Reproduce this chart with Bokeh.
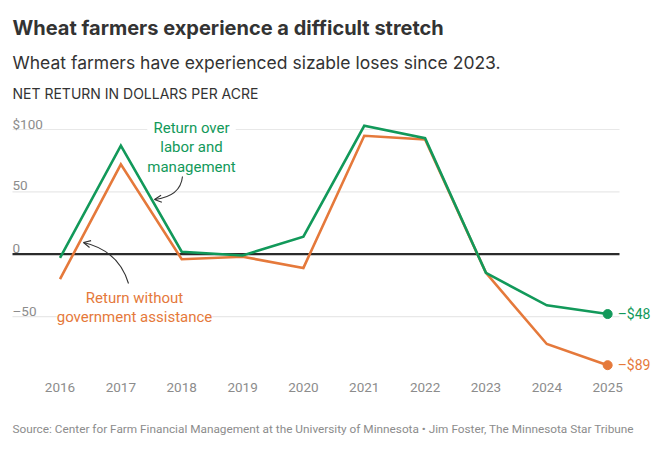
from bokeh.plotting import figure
from bokeh.models import Range1d, Label, Arrow, OpenHead
from bokeh.core.properties import value
from bokeh.embed import file_html
from bokeh.resources import INLINE

# Net return in dollars per acre, Minnesota wheat farms
years = [2016, 2017, 2018, 2019, 2020, 2021, 2022, 2023, 2024, 2025]
return_over_labor = [-3, 87, 2, -1, 14, 103, 93, -15, -41, -48]
return_without_gov = [-20, 72, -4, -2, -11, 95, 92, -15, -72, -89]

y_ticks = [100, 50, 0, -50]
y_tick_labels = ["$100", "50", "0", "–50"]
x_tick_labels = [str(y) for y in years]

GREEN = "#12995a"
ORANGE = "#e5793b"
INK = "#333333"
GREY = "#8c8c8c"
TICK_FONT = "Roboto"
SANS = "Roboto"
HEAD_FONT = "Inter"

W, H = 663, 452

# pixel <-> data helpers (the plot frame fills the whole canvas)
X0_PX, X_STEP = 59.5, 60.85
Y0_PX, Y_SCALE = 253.7, 1.247


def px2x(px):
    return years[0] + (px - X0_PX) / X_STEP


def py2y(py):
    return (Y0_PX - py) / Y_SCALE


p = figure(width=W, height=H, output_backend="svg", toolbar_location=None,
           x_range=Range1d(px2x(0), px2x(W)), y_range=Range1d(py2y(H), py2y(0)),
           x_axis_type=None, y_axis_type=None, min_border=0,
           outline_line_color=None, background_fill_color="white",
           border_fill_color="white")

# horizontal grid lines
grid_left, grid_right = px2x(12), px2x(619)
grid_vals = [t for t in y_ticks if t != 0]
p.segment(x0=[grid_left] * len(grid_vals), x1=[grid_right] * len(grid_vals),
          y0=grid_vals, y1=grid_vals, line_color="#e8e8e8", line_width=1.2)

# y tick labels sit just above their grid lines
p.text(x=[grid_left] * len(y_ticks), y=y_ticks, text=y_tick_labels,
       y_offset=-6, text_baseline="alphabetic", text_align="left",
       text_font=value(TICK_FONT), text_font_size=value("13.5px"), text_color=GREY)

# zero baseline
p.segment(x0=[grid_left], x1=[grid_right], y0=[0], y1=[0],
          line_color="#2b2b2b", line_width=2.2)

# series
p.line(years, return_without_gov, line_color=ORANGE, line_width=2.6,
       line_join="miter")
p.line(years, return_over_labor, line_color=GREEN, line_width=2.6,
       line_join="miter")
p.scatter([years[-1]], [return_without_gov[-1]], size=9, color=ORANGE)
p.scatter([years[-1]], [return_over_labor[-1]], size=9, color=GREEN)

# end-of-line value labels
for series, col in ((return_over_labor, GREEN), (return_without_gov, ORANGE)):
    v = series[-1]
    txt = ("–$%d" % abs(v)) if v < 0 else ("$%d" % v)
    p.text(x=[years[-1]], y=[v], text=[txt], x_offset=10,
           text_baseline="middle", text_align="left",
           text_font=value(TICK_FONT), text_font_size=value("14px"),
           text_color=col)

# x tick labels
p.text(x=years, y=[py2y(386.5)] * len(years), text=x_tick_labels,
       text_align="center", text_baseline="alphabetic",
       text_font=value(TICK_FONT), text_font_size=value("13.5px"), text_color=GREY)

# series annotations
p.add_layout(Label(x=px2x(191), y=py2y(118), text="Return over\nlabor and\nmanagement",
                   text_align="center", text_baseline="top", text_color=GREEN,
                   text_font=SANS, text_font_size="15px", text_line_height=1.1,
                   background_fill_color="white"))
p.add_layout(Label(x=px2x(134), y=py2y(288), text="Return without\ngovernment assistance",
                   text_align="center", text_baseline="top", text_color=ORANGE,
                   text_font=SANS, text_font_size="15px", text_line_height=1.1,
                   background_fill_color="white"))

# curved pointer arrows
green_arrow = [(182, 176), (180, 196), (154, 199)]
orange_arrow = [(128, 283), (118, 250), (83, 242)]
for pts in (green_arrow, orange_arrow):
    (sx, sy), (cx, cy), (ex, ey) = pts
    p.quadratic(x0=[px2x(sx)], y0=[py2y(sy)], cx=[px2x(cx)], cy=[py2y(cy)],
                x1=[px2x(ex)], y1=[py2y(ey)], line_color="#333333", line_width=1.1)
    # tiny arrow segment along the end tangent to place the head
    tx, ty = ex - cx, ey - cy
    n = (tx ** 2 + ty ** 2) ** 0.5
    bx, by = ex - tx / n * 2, ey - ty / n * 2
    p.add_layout(Arrow(x_start=px2x(bx), y_start=py2y(by), x_end=px2x(ex), y_end=py2y(ey),
                       line_color="#333333", line_width=1.1,
                       end=OpenHead(size=7, line_color="#333333", line_width=1.1)))

# titles and source
p.add_layout(Label(x=px2x(12), y=py2y(27.3), text="Wheat farmers experience a difficult stretch",
                   text_font=HEAD_FONT, text_font_style="bold", text_font_size="20px",
                   text_color=INK, text_baseline="alphabetic"))
p.add_layout(Label(x=px2x(12), y=py2y(61.7), text="Wheat farmers have experienced sizable loses since 2023.",
                   text_font=HEAD_FONT, text_font_size="17.5px", text_color=INK,
                   text_baseline="alphabetic"))
p.add_layout(Label(x=px2x(12), y=py2y(93.3), text="NET RETURN IN DOLLARS PER ACRE",
                   text_font=HEAD_FONT, text_font_size="14px", text_color=INK,
                   text_baseline="alphabetic"))
p.add_layout(Label(x=px2x(12), y=py2y(428.5),
                   text="Source: Center for Farm Financial Management at the University of Minnesota \u2022 Jim Foster, The Minnesota Star Tribune",
                   text_font=TICK_FONT, text_font_size="11.8px", text_color=GREY,
                   text_baseline="alphabetic"))

open("out.html", "w").write(file_html(p, INLINE))
